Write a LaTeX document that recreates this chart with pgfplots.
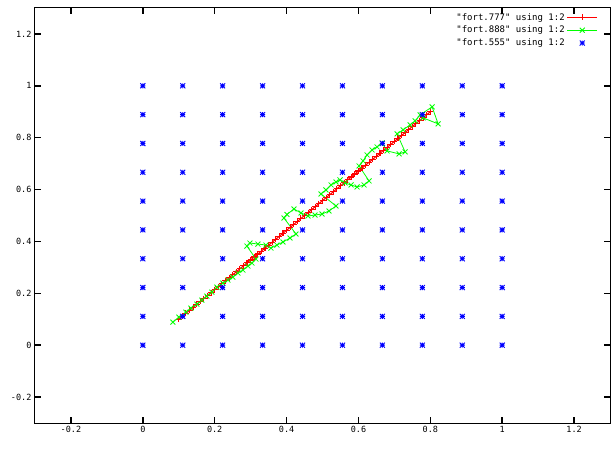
\documentclass[border=0pt]{standalone}
\usepackage{fontspec}
\setmainfont{DejaVu Sans Mono}[Ligatures=TeXOff]
\usepackage{pgfplots}
\pgfplotsset{compat=1.18}
\pgfdeclareplotmark{gpstar}{%
  \pgfpathmoveto{\pgfqpoint{-\pgfplotmarksize}{0pt}}\pgfpathlineto{\pgfqpoint{\pgfplotmarksize}{0pt}}%
  \pgfpathmoveto{\pgfqpoint{0pt}{-\pgfplotmarksize}}\pgfpathlineto{\pgfqpoint{0pt}{\pgfplotmarksize}}%
  \pgfpathmoveto{\pgfqpoint{-\pgfplotmarksize}{-\pgfplotmarksize}}\pgfpathlineto{\pgfqpoint{\pgfplotmarksize}{\pgfplotmarksize}}%
  \pgfpathmoveto{\pgfqpoint{-\pgfplotmarksize}{\pgfplotmarksize}}\pgfpathlineto{\pgfqpoint{\pgfplotmarksize}{-\pgfplotmarksize}}%
  \pgfusepathqstroke}
\pgfplotsset{
  gpline/.style={legend image code/.code={\draw[mark repeat=2,mark phase=2,##1] plot coordinates {(0pt,0pt) (15pt,0pt) (30pt,0pt)};}},
  gppoint/.style={legend image code/.code={\draw[##1] plot coordinates {(15pt,0pt)};}},
}
\definecolor{gpred}{RGB}{255,0,0}
\definecolor{gpgreen}{RGB}{0,255,0}
\definecolor{gpblue}{RGB}{0,0,255}
\begin{document}
\begin{tikzpicture}
\useasboundingbox (-35pt,-25pt) rectangle (580pt,423pt);
\begin{axis}[
  at={(0pt,0pt)}, anchor=south west,
  scale only axis, width=575pt, height=415pt,
  xmin=-0.3, xmax=1.3, ymin=-0.3, ymax=1.3,
  xtick={-0.2,0,0.2,0.4,0.6,0.8,1,1.2},
  ytick={-0.2,0,0.2,0.4,0.6,0.8,1,1.2},
  tick align=inside,
  major tick length=6pt,
  major tick style={draw=black, line width=1.4pt},
  axis line style={line width=1pt},
  /pgf/number format/assume math mode=true,
  tick label style={font=\fontsize{8.5}{10}\selectfont},
  legend style={at={(1,1)}, anchor=north east, xshift=-12pt, yshift=-3pt,
    draw=none, fill=none, inner sep=0pt, row sep=0.5pt,
    font=\fontsize{9}{12}\selectfont},
  legend cell align=right,
  legend plot pos=right,
]
\addplot[gpline, color=gpred, line width=1.1pt, mark=+, mark size=3pt]
coordinates {
(0.10,0.1000)(0.11,0.1114)(0.12,0.1229)(0.13,0.1343)(0.14,0.1457)(0.15,0.1571)(0.16,0.1686)(0.17,0.1800)
(0.18,0.1914)(0.19,0.2029)(0.20,0.2143)(0.21,0.2257)(0.22,0.2371)(0.23,0.2486)(0.24,0.2600)(0.25,0.2714)
(0.26,0.2829)(0.27,0.2943)(0.28,0.3057)(0.29,0.3171)(0.30,0.3286)(0.31,0.3400)(0.32,0.3514)(0.33,0.3629)
(0.34,0.3743)(0.35,0.3857)(0.36,0.3971)(0.37,0.4086)(0.38,0.4200)(0.39,0.4314)(0.40,0.4429)(0.41,0.4543)
(0.42,0.4657)(0.43,0.4771)(0.44,0.4886)(0.45,0.5000)(0.46,0.5114)(0.47,0.5229)(0.48,0.5343)(0.49,0.5457)
(0.50,0.5571)(0.51,0.5686)(0.52,0.5800)(0.53,0.5914)(0.54,0.6029)(0.55,0.6143)(0.56,0.6257)(0.57,0.6371)
(0.58,0.6486)(0.59,0.6600)(0.60,0.6714)(0.61,0.6829)(0.62,0.6943)(0.63,0.7057)(0.64,0.7171)(0.65,0.7286)
(0.66,0.7400)(0.67,0.7514)(0.68,0.7629)(0.69,0.7743)(0.70,0.7857)(0.71,0.7971)(0.72,0.8086)(0.73,0.8200)
(0.74,0.8314)(0.75,0.8429)(0.76,0.8543)(0.77,0.8657)(0.78,0.8771)(0.79,0.8886)(0.80,0.9000)
};
\addlegendentry{"fort.777" using 1:2}
\addplot[gpline, color=gpgreen, line width=0.8pt, mark=x, mark size=3.5pt]
coordinates {
(0.0836,0.0888)(0.1003,0.1081)(0.1198,0.1274)(0.1337,0.1429)(0.1504,0.1583)(0.1643,0.1737)(0.1783,0.1892)
(0.1922,0.2046)(0.2061,0.2239)(0.2228,0.2394)(0.2368,0.2510)(0.2507,0.2625)(0.2646,0.2780)(0.2786,0.2896)
(0.2925,0.3050)(0.3036,0.3166)(0.3148,0.3320)
(0.2897,0.3822)(0.2981,0.3938)
(0.3203,0.3900)(0.3426,0.3861)(0.3565,0.3745)
(0.3733,0.3861)(0.3900,0.3977)(0.4095,0.4131)(0.4262,0.4286)
(0.3928,0.4903)(0.4011,0.5039)(0.4206,0.5251)
(0.4401,0.5097)(0.4596,0.4981)
(0.4791,0.5019)(0.4986,0.5058)(0.5181,0.5174)(0.5376,0.5367)
(0.4958,0.5830)(0.5097,0.5985)(0.5237,0.6178)(0.5376,0.6293)(0.5487,0.6371)
(0.5627,0.6255)(0.5794,0.6178)(0.5961,0.6100)
(0.6156,0.6178)(0.6295,0.6332)
(0.6017,0.6911)(0.6128,0.7104)(0.6240,0.7336)(0.6379,0.7529)(0.6518,0.7645)(0.6657,0.7799)
(0.6797,0.7490)(0.7131,0.7375)(0.7298,0.7452)
(0.7075,0.8147)(0.7242,0.8301)(0.7437,0.8494)(0.7577,0.8649)(0.7716,0.8880)
(0.8050,0.9189)(0.8217,0.8533)(0.7799,0.8764)
};
\addlegendentry{"fort.888" using 1:2}
\addplot[gppoint, color=gpblue, only marks, mark=gpstar, mark size=2.5pt, line width=0.9pt]
coordinates {
(0,0)(0.1111,0)(0.2222,0)(0.3333,0)(0.4444,0)(0.5556,0)(0.6667,0)(0.7778,0)(0.8889,0)(1,0)
(0,0.1111)(0.1111,0.1111)(0.2222,0.1111)(0.3333,0.1111)(0.4444,0.1111)(0.5556,0.1111)(0.6667,0.1111)(0.7778,0.1111)(0.8889,0.1111)(1,0.1111)
(0,0.2222)(0.1111,0.2222)(0.2222,0.2222)(0.3333,0.2222)(0.4444,0.2222)(0.5556,0.2222)(0.6667,0.2222)(0.7778,0.2222)(0.8889,0.2222)(1,0.2222)
(0,0.3333)(0.1111,0.3333)(0.2222,0.3333)(0.3333,0.3333)(0.4444,0.3333)(0.5556,0.3333)(0.6667,0.3333)(0.7778,0.3333)(0.8889,0.3333)(1,0.3333)
(0,0.4444)(0.1111,0.4444)(0.2222,0.4444)(0.3333,0.4444)(0.4444,0.4444)(0.5556,0.4444)(0.6667,0.4444)(0.7778,0.4444)(0.8889,0.4444)(1,0.4444)
(0,0.5556)(0.1111,0.5556)(0.2222,0.5556)(0.3333,0.5556)(0.4444,0.5556)(0.5556,0.5556)(0.6667,0.5556)(0.7778,0.5556)(0.8889,0.5556)(1,0.5556)
(0,0.6667)(0.1111,0.6667)(0.2222,0.6667)(0.3333,0.6667)(0.4444,0.6667)(0.5556,0.6667)(0.6667,0.6667)(0.7778,0.6667)(0.8889,0.6667)(1,0.6667)
(0,0.7778)(0.1111,0.7778)(0.2222,0.7778)(0.3333,0.7778)(0.4444,0.7778)(0.5556,0.7778)(0.6667,0.7778)(0.7778,0.7778)(0.8889,0.7778)(1,0.7778)
(0,0.8889)(0.1111,0.8889)(0.2222,0.8889)(0.3333,0.8889)(0.4444,0.8889)(0.5556,0.8889)(0.6667,0.8889)(0.7778,0.8889)(0.8889,0.8889)(1,0.8889)
(0,1)(0.1111,1)(0.2222,1)(0.3333,1)(0.4444,1)(0.5556,1)(0.6667,1)(0.7778,1)(0.8889,1)(1,1)
};
\addlegendentry{"fort.555" using 1:2}
\end{axis}
\end{tikzpicture}
\end{document}
